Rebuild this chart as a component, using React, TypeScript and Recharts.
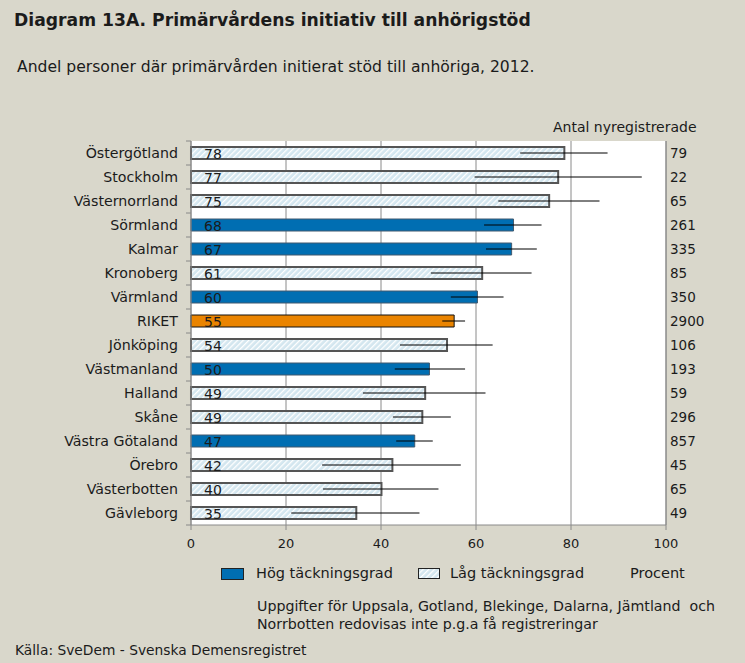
import { Bar, BarChart, CartesianGrid, Cell, ErrorBar, LabelList, XAxis, YAxis } from "recharts"

const regioner = [
  "Östergötland", "Stockholm", "Västernorrland", "Sörmland", "Kalmar", "Kronoberg", "Värmland", "RIKET",
  "Jönköping", "Västmanland", "Halland", "Skåne", "Västra Götaland", "Örebro", "Västerbotten", "Gävleborg",
]
const andel = [78.6, 77.3, 75.4, 67.9, 67.5, 61.3, 60.3, 55.4, 53.9, 50.2, 49.3, 48.7, 47.1, 42.4, 40.1, 34.8]
const etiketter = [78, 77, 75, 68, 67, 61, 60, 55, 54, 50, 49, 49, 47, 42, 40, 35]
const konfLag = [69.3, 59.7, 64.7, 61.7, 62.1, 50.5, 54.7, 52.9, 44.0, 42.9, 36.2, 42.5, 43.2, 27.6, 27.8, 21.1]
const konfHog = [87.7, 94.9, 86.0, 73.8, 72.8, 71.7, 65.8, 57.7, 63.5, 57.7, 62.0, 54.7, 50.9, 56.8, 52.1, 48.1]
const antal = ["79", "22", "65", "261", "335", "85", "350", "2900", "106", "193", "59", "296", "857", "45", "65", "49"]
const grupp = ["låg", "låg", "låg", "hög", "hög", "låg", "hög", "riket", "låg", "hög", "låg", "låg", "hög", "låg", "låg", "låg"]
const xTicks = [0, 20, 40, 60, 80, 100]

const data = regioner.map((region, i) => ({
  region,
  andel: andel[i],
  etikett: etiketter[i],
  fel: [andel[i] - konfLag[i], konfHog[i] - andel[i]],
}))

const BG = "#D9D7CB"
const BLA = "#006EB2"
const ORANGE = "#EA8400"
const TEXT = "#1b1b1b"
const FONT = "'DejaVu Sans', sans-serif"

const TOP = 141
const BOTTOM = 138
const HEIGHT = 663
const BAND = (HEIGHT - TOP - BOTTOM) / regioner.length

function fyllFor(g: string) {
  if (g === "hög") return { fill: BLA, stroke: "#40596e", strokeWidth: 1 }
  if (g === "riket") return { fill: ORANGE, stroke: "#111", strokeWidth: 1 }
  return { fill: "url(#randat)", stroke: "#555", strokeWidth: 2 }
}

function VansterTick(props: any) {
  const { x, y, payload, index } = props
  const half = BAND / 2
  return (
    <g>
      <line x1={x - 5} x2={x} y1={y - half} y2={y - half} stroke="#888" />
      {index === regioner.length - 1 && <line x1={x - 5} x2={x} y1={y + half} y2={y + half} stroke="#888" />}
      <text x={x - 13} y={y} dy={5} textAnchor="end" fill={TEXT} fontSize={14.2} fontFamily={FONT}>
        {payload.value}
      </text>
    </g>
  )
}

function BarEtikett(props: any) {
  const { x, y, height, value } = props
  return (
    <text x={x + 13} y={y + height / 2} dy={6} fill={TEXT} fontSize={14} fontFamily={FONT}>
      {value}
    </text>
  )
}

function Randat({ id }: { id: string }) {
  return (
    <pattern id={id} patternUnits="userSpaceOnUse" width="4" height="4" patternTransform="rotate(45)">
      <rect width="4" height="4" fill="#D3E6EF" />
      <rect width="1.3" height="4" fill="#ffffff" />
    </pattern>
  )
}

const txt = (extra: React.CSSProperties): React.CSSProperties => ({
  position: "absolute",
  fontFamily: FONT,
  color: TEXT,
  whiteSpace: "nowrap",
  lineHeight: "18px",
  ...extra,
})

export default function App() {
  return (
    <div style={{ position: "fixed", left: 0, top: 0, width: 745, height: HEIGHT, background: BG, overflow: "hidden" }}>
      <div style={txt({ left: 14, top: 10, fontSize: 17.2, fontWeight: "bold", lineHeight: "20px" })}>
        Diagram 13A. Primärvårdens initiativ till anhörigstöd
      </div>
      <div style={txt({ left: 17, top: 57, fontSize: 15.6, lineHeight: "20px" })}>
        Andel personer där primärvården initierat stöd till anhöriga, 2012.
      </div>
      <div style={txt({ left: 553, top: 118, fontSize: 14 })}>Antal nyregistrerade</div>

      <div style={{ position: "absolute", left: 0, top: 0 }}>
        <BarChart
          width={745}
          height={HEIGHT}
          data={data}
          layout="vertical"
          margin={{ top: TOP, right: 0, bottom: BOTTOM - 30, left: 0 }}
          barCategoryGap={0}
        >
          <defs>
            <Randat id="randat" />
          </defs>
          <CartesianGrid horizontal={false} stroke="#8a8a8a" fill="#ffffff" />
          <XAxis
            type="number"
            domain={[0, 100]}
            ticks={xTicks}
            height={30}
            stroke="#8a8a8a"
            tickSize={5}
            tickMargin={9}
            tick={{ fontSize: 13, fill: TEXT, fontFamily: FONT }}
          />
          <YAxis
            yAxisId="v"
            type="category"
            dataKey="region"
            width={191}
            stroke="#8a8a8a"
            tickSize={0}
            tickMargin={0}
            tickLine={false}
            tick={<VansterTick />}
            interval={0}
          />
          <YAxis
            yAxisId="h"
            orientation="right"
            type="category"
            dataKey="region"
            width={79}
            stroke="#8a8a8a"
            tickSize={0}
            tickMargin={4}
            tickLine={false}
            interval={0}
            tickFormatter={(_v: string, i: number) => antal[i]}
            tick={{ fontSize: 13.5, fill: TEXT, fontFamily: FONT, textAnchor: "start" }}
          />
          <Bar dataKey="andel" yAxisId="v" barSize={12} isAnimationActive={false}>
            {data.map((_d, i) => (
              <Cell key={i} {...fyllFor(grupp[i])} />
            ))}
            <LabelList dataKey="etikett" content={<BarEtikett />} />
            <ErrorBar dataKey="fel" direction="x" width={0} stroke="#000" strokeWidth={1} isAnimationActive={false} />
          </Bar>
        </BarChart>
      </div>

      <div style={{ position: "absolute", left: 221, top: 568, width: 21, height: 10, background: BLA, border: "1px solid #222" }} />
      <div style={txt({ left: 256, top: 564, fontSize: 14.5 })}>Hög täckningsgrad</div>
      <svg style={{ position: "absolute", left: 418, top: 568 }} width={23} height={12}>
        <defs>
          <Randat id="randat-legend" />
        </defs>
        <rect x={0.5} y={0.5} width={21} height={10} fill="url(#randat-legend)" stroke="#222" strokeWidth={1} />
      </svg>
      <div style={txt({ left: 450, top: 564, fontSize: 14.5 })}>Låg täckningsgrad</div>
      <div style={txt({ left: 630, top: 564, fontSize: 14.5 })}>Procent</div>

      <div style={txt({ left: 257, top: 597, fontSize: 14.2 })}>
        Uppgifter för Uppsala, Gotland, Blekinge, Dalarna, Jämtland&nbsp; och
        <br />
        Norrbotten redovisas inte p.g.a få registreringar
      </div>
      <div style={txt({ left: 15, top: 641, fontSize: 13.8 })}>Källa: SveDem - Svenska Demensregistret</div>
    </div>
  )
}
